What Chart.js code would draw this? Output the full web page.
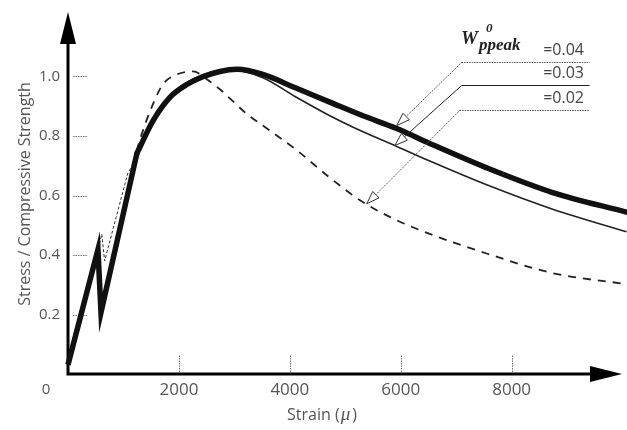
<!DOCTYPE html>
<html>
<head>
<meta charset="utf-8">
<script src="https://cdn.jsdelivr.net/npm/chart.js@4.4.1/dist/chart.umd.min.js"></script>
<style>
  html, body { margin: 0; padding: 0; background: #fff; }
  #wrap { width: 627px; height: 430px; }
</style>
</head>
<body>
<div id="wrap"><canvas id="stressChart"></canvas></div>
<script>
// tick values
const tickStrain = [2000, 4000, 6000, 8000];
const tickStress = [0.2, 0.4, 0.6, 0.8, 1.0];

// shared loading / unloading zigzag at the start (W = 0.04 and 0.03)
const riseStrain = [0, 540, 595, 1243];
const riseStress = [0.031, 0.418, 0.207, 0.742];

// W = 0.04 (thick)
const w04Strain = [1243, 1532, 1838, 2144, 2432, 2739, 3050, 3514, 4100, 4721, 5320, 5928, 6523, 7550, 8739, 10072];
const w04Stress = [0.742, 0.851, 0.930, 0.973, 0.999, 1.017, 1.024, 1.007, 0.962, 0.914, 0.868, 0.825, 0.775, 0.693, 0.610, 0.544];

// W = 0.03 (thin)
const w03Strain = [1243, 1532, 1838, 2144, 2432, 2739, 2950, 3514, 4100, 4721, 5320, 5928, 6523, 7550, 8739, 10072];
const w03Stress = [0.742, 0.856, 0.936, 0.980, 1.006, 1.020, 1.022, 0.996, 0.932, 0.868, 0.814, 0.765, 0.716, 0.636, 0.554, 0.478];

// W = 0.02 (dashed)
const w02RiseStrain = [0, 540, 610, 660, 1080, 1160];
const w02RiseStress = [0.031, 0.418, 0.470, 0.380, 0.676, 0.700];
const w02Strain = [1160, 1333, 1532, 1712, 1964, 2252, 2559, 2739, 2973, 3225, 3514, 4126, 4721, 5315, 5928, 6523, 7550, 8739, 10072];
const w02Stress = [0.700, 0.808, 0.907, 0.974, 1.007, 1.017, 0.983, 0.957, 0.917, 0.874, 0.835, 0.752, 0.660, 0.578, 0.517, 0.471, 0.405, 0.339, 0.302];

// leader annotations
const labelText = ['=0.04', '=0.03', '=0.02'];
const labelStress = [1.050, 0.970, 0.888];
const labelStrainFrom = [7099, 7099, 7063];
const labelStrainTo = 9405;
const tipStrain = [5928, 5892, 5387];
const tipStress = [0.835, 0.768, 0.572];

function pts(xs, ys) {
  return xs.map((v, i) => ({ x: v, y: ys[i] }));
}

const decor = {
  id: 'decor',
  beforeDatasetsDraw(chart) {
    const { ctx, scales: { x, y } } = chart;
    const x0 = x.getPixelForValue(0);
    const y0 = y.getPixelForValue(0);
    ctx.save();

    // dotted tick marks inside the axes
    ctx.strokeStyle = '#777';
    ctx.lineWidth = 1;
    ctx.setLineDash([1.5, 1]);
    tickStress.forEach(v => {
      const py = Math.round(y.getPixelForValue(v)) + 0.5;
      ctx.beginPath(); ctx.moveTo(x0 + 5, py); ctx.lineTo(x0 + 20, py); ctx.stroke();
    });
    tickStrain.forEach(v => {
      const px = Math.round(x.getPixelForValue(v)) + 0.5;
      ctx.beginPath(); ctx.moveTo(px, y0 - 2); ctx.lineTo(px, y0 - 19); ctx.stroke();
    });
    ctx.setLineDash([]);

    // axes with arrow heads
    ctx.strokeStyle = '#000';
    ctx.fillStyle = '#000';
    ctx.lineWidth = 3;
    ctx.beginPath();
    ctx.moveTo(x0, y0 + 1.5); ctx.lineTo(x0, 40);
    ctx.moveTo(x0 - 1.5, y0); ctx.lineTo(595, y0);
    ctx.stroke();
    ctx.beginPath();
    ctx.moveTo(x0, 12); ctx.lineTo(x0 - 8, 44); ctx.lineTo(x0 + 8, 44); ctx.closePath();
    ctx.fill();
    ctx.beginPath();
    ctx.moveTo(622, y0); ctx.lineTo(590, y0 - 8); ctx.lineTo(590, y0 + 8); ctx.closePath();
    ctx.fill();

    // origin label and axis titles
    ctx.fillStyle = '#555';
    ctx.font = '15px "Open Sans"';
    ctx.textAlign = 'center';
    ctx.textBaseline = 'middle';
    ctx.fillText('0', 46, y0 + 16);

    ctx.font = '16px "Open Sans"';
    ctx.textAlign = 'left';
    ctx.textBaseline = 'alphabetic';
    let tx = 287;
    ctx.fillText('Strain (', tx, 420);
    tx += ctx.measureText('Strain (').width + 1;
    ctx.font = 'italic 19px "Liberation Serif"';
    ctx.fillText('\u03bc', tx, 420);
    tx += ctx.measureText('\u03bc').width + 2;
    ctx.font = '16px "Open Sans"';
    ctx.fillText(')', tx, 420);

    ctx.translate(25, 194);
    ctx.rotate(-Math.PI / 2);
    ctx.textAlign = 'center';
    ctx.textBaseline = 'middle';
    ctx.fillText('Stress / Compressive Strength', 0, 0);
    ctx.restore();
  },
  afterDatasetsDraw(chart) {
    const { ctx, scales: { x, y } } = chart;
    const right = x.getPixelForValue(labelStrainTo);
    ctx.save();
    labelText.forEach((t, i) => {
      const ly = Math.round(y.getPixelForValue(labelStress[i])) + 0.5;
      const lx = x.getPixelForValue(labelStrainFrom[i]);
      const tipX = x.getPixelForValue(tipStrain[i]);
      const tipY = y.getPixelForValue(tipStress[i]);
      const dotted = i !== 1;
      ctx.strokeStyle = dotted ? '#555' : '#222';
      ctx.lineWidth = 1;
      ctx.setLineDash(dotted ? [1.5, 1] : []);
      // horizontal rule
      ctx.beginPath(); ctx.moveTo(lx, ly); ctx.lineTo(right, ly); ctx.stroke();
      // leader to arrow
      const dx = tipX - lx, dy = tipY - ly;
      const len = Math.hypot(dx, dy);
      const ux = dx / len, uy = dy / len;
      const bx = tipX - ux * 13, by = tipY - uy * 13;
      ctx.beginPath(); ctx.moveTo(lx, ly); ctx.lineTo(bx, by); ctx.stroke();
      ctx.setLineDash([]);
      // hollow arrow head
      ctx.beginPath();
      ctx.moveTo(tipX, tipY);
      ctx.lineTo(bx - uy * 4.5, by + ux * 4.5);
      ctx.lineTo(bx + uy * 4.5, by - ux * 4.5);
      ctx.closePath();
      ctx.fillStyle = '#fff';
      ctx.fill();
      ctx.strokeStyle = '#333';
      ctx.stroke();
      // value text
      ctx.fillStyle = '#444';
      ctx.font = '16px "Open Sans"';
      ctx.textAlign = 'right';
      ctx.textBaseline = 'alphabetic';
      ctx.fillText(t, 584, ly - 8);
    });

    // W^0_ppeak symbol
    ctx.fillStyle = '#222';
    ctx.textAlign = 'left';
    ctx.font = 'italic bold 19px "Liberation Serif"';
    ctx.fillText('W', 461, 44);
    ctx.font = 'italic bold 13px "Liberation Serif"';
    ctx.fillText('0', 486, 32);
    ctx.font = 'italic bold 17px "Liberation Serif"';
    ctx.fillText('ppeak', 479, 50);
    ctx.restore();
  }
};

const ctx = document.getElementById('stressChart').getContext('2d');

const stressChart = new Chart(ctx, {
  type: 'line',
  data: {
    datasets: [
      {
        label: 'W=0.04 rise',
        data: pts(riseStrain, riseStress),
        borderColor: '#111', borderWidth: 5.5, tension: 0,
        pointRadius: 0, borderJoinStyle: 'miter', clip: false
      },
      {
        label: 'W=0.04',
        data: pts(w04Strain, w04Stress),
        borderColor: '#111', borderWidth: 5.5, cubicInterpolationMode: 'monotone',
        pointRadius: 0, borderCapStyle: 'round', clip: false
      },
      {
        label: 'W=0.03',
        data: pts(w03Strain, w03Stress),
        borderColor: '#222', borderWidth: 1.6, cubicInterpolationMode: 'monotone',
        pointRadius: 0, clip: false
      },
      {
        label: 'W=0.02 rise',
        data: pts(w02RiseStrain, w02RiseStress),
        borderColor: '#333', borderWidth: 1, tension: 0,
        borderDash: [3, 2], pointRadius: 0, clip: false
      },
      {
        label: 'W=0.02',
        data: pts(w02Strain, w02Stress),
        borderColor: '#222', borderWidth: 1.8, cubicInterpolationMode: 'monotone',
        borderDash: [8, 7], pointRadius: 0, clip: false
      }
    ]
  },
  options: {
    responsive: true,
    maintainAspectRatio: false,
    animation: false,
    layout: { padding: { top: 12, right: 0, bottom: 0, left: 0 } },
    plugins: {
      legend: { display: false },
      tooltip: { enabled: false }
    },
    scales: {
      x: {
        type: 'linear',
        min: 0,
        max: 10080,
        grid: { display: false, drawTicks: false },
        border: { display: false },
        afterBuildTicks: scale => { scale.ticks = tickStrain.map(v => ({ value: v })); },
        afterFit: scale => { scale.height = 56; },
        ticks: {
          padding: 6,
          color: '#555',
          font: { family: 'Open Sans', size: 17 },
          maxRotation: 0,
          callback: v => String(v)
        }
      },
      y: {
        min: 0,
        max: 1.2,
        grid: { display: false, drawTicks: false },
        border: { display: false },
        afterBuildTicks: scale => { scale.ticks = tickStress.map(v => ({ value: v })); },
        afterFit: scale => { scale.width = 68; },
        ticks: {
          padding: 8,
          color: '#555',
          font: { family: 'Open Sans', size: 15 },
          callback: v => v.toFixed(1)
        }
      }
    }
  },
  plugins: [decor]
});
</script>
</body>
</html>
